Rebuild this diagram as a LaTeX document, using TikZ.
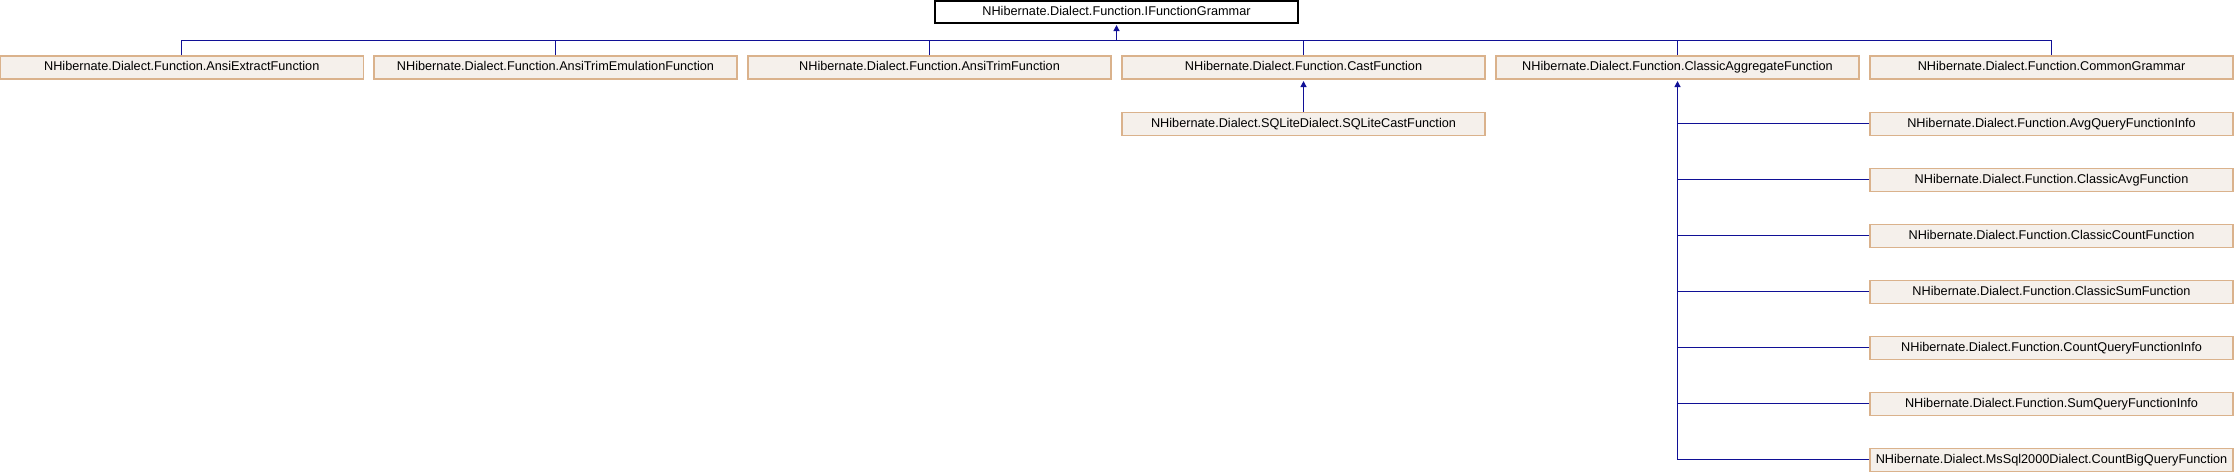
\documentclass[tikz,border=0pt]{standalone}
\usepackage{fontspec}
\setmainfont{Liberation Sans}
\usetikzlibrary{arrows.meta,positioning}
\definecolor{edgeblue}{RGB}{16,16,150}
\definecolor{boxfill}{RGB}{245,240,235}
\definecolor{boxline}{RGB}{218,178,140}
\tikzset{
  cls/.style={draw=boxline, fill=boxfill, line width=1.1pt, minimum width=363pt, minimum height=23pt, inner sep=0pt, text height=9.2pt, text depth=2.6pt, font=\fontsize{12.7}{14}\selectfont},
  topcls/.style={draw=black, fill=white, line width=1.1pt, minimum width=363pt, minimum height=22pt, inner sep=0pt, text height=9.2pt, text depth=2.6pt, font=\fontsize{12.7}{14}\selectfont},
  edge/.style={draw=edgeblue, line width=1.3pt},
  inh/.style={edge, -{Triangle[length=6pt,width=6pt]}, shorten >=1.5pt}
}
\begin{document}
\begin{tikzpicture}[x=1pt,y=-1pt]
\useasboundingbox (0,0) rectangle (2234,472);
\node[topcls] (top) at (1116.5,12) {NHibernate.Dialect.Function.IFunctionGrammar};
\node[cls] (c1) at (181.75,67.5) {NHibernate.Dialect.Function.AnsiExtractFunction};
\node[cls] (c2) at (555.5,67.5) {NHibernate.Dialect.Function.AnsiTrimEmulationFunction};
\node[cls] (c3) at (929.5,67.5) {NHibernate.Dialect.Function.AnsiTrimFunction};
\node[cls] (c4) at (1303.5,67.5) {NHibernate.Dialect.Function.CastFunction};
\node[cls] (c5) at (1677.5,67.5) {NHibernate.Dialect.Function.ClassicAggregateFunction};
\node[cls] (c6) at (2051.5,67.5) {NHibernate.Dialect.Function.CommonGrammar};
\node[cls] (sq) at (1303.5,123.7) {NHibernate.Dialect.SQLiteDialect.SQLiteCastFunction};
\node[cls] (r1) at (2051.5,123.7) {NHibernate.Dialect.Function.AvgQueryFunctionInfo};
\node[cls] (r2) at (2051.5,179.7) {NHibernate.Dialect.Function.ClassicAvgFunction};
\node[cls] (r3) at (2051.5,235.7) {NHibernate.Dialect.Function.ClassicCountFunction};
\node[cls] (r4) at (2051.5,291.7) {NHibernate.Dialect.Function.ClassicSumFunction};
\node[cls] (r5) at (2051.5,347.7) {NHibernate.Dialect.Function.CountQueryFunctionInfo};
\node[cls] (r6) at (2051.5,403.7) {NHibernate.Dialect.Function.SumQueryFunctionInfo};
\node[cls] (r7) at (2051.5,459.7) {NHibernate.Dialect.MsSql2000Dialect.CountBigQueryFunction};
\coordinate (bus) at (1116.5,40.5);
% bus
\draw[edge] (c1.north) -- (c1.north |- bus) -- (c6.north |- bus) -- (c6.north);
\foreach \c in {c2,c3,c4,c5} { \draw[edge] (\c.north) -- (\c.north |- bus); }
\draw[inh] (top.south |- bus) -- (top.south);
% cast
\draw[inh] (sq.north) -- (c4.south);
% classic aggregate
\draw[edge] (r7.west) -| (c5.south |- r1.west);
\foreach \r in {r1,r2,r3,r4,r5,r6} { \draw[edge] (\r.west) -- (c5.south |- \r.west); }
\draw[inh] (c5.south |- r1.west) -- (c5.south);
\end{tikzpicture}
\end{document}
